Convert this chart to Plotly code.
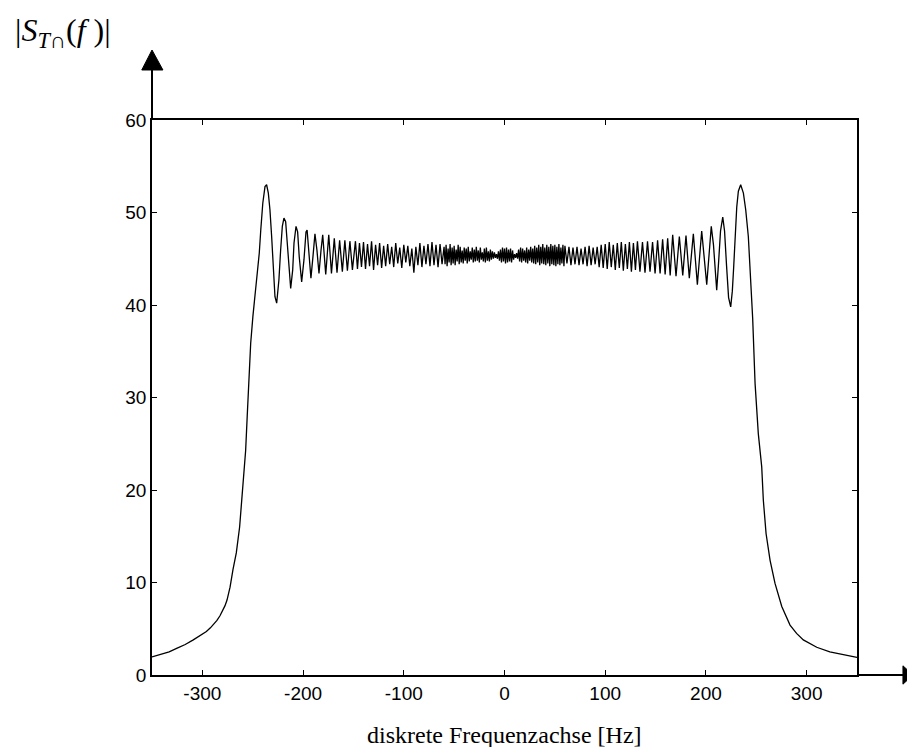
import plotly.graph_objects as go

# ---- data (frequency in Hz, magnitude) ----
freq_left_edge = [-350, -342, -333, -325, -317, -309, -302, -296, -292, -288.5, -285.5,
                  -282.5, -280.5, -277.5, -275.5, -272.5, -269.6, -266.3, -263, -260,
                  -257, -255.5, -253.8, -252, -249.8, -247.5, -245.5, -243.5, -242, -240,
                  -237.8, -236.2]
mag_left_edge = [1.95, 2.2, 2.5, 2.9, 3.3, 3.8, 4.3, 4.7, 5.1, 5.5, 5.9,
                 6.4, 6.8, 7.5, 8.1, 9.5, 11.4, 13.2, 16.0, 19.7,
                 24.3, 27.9, 32.6, 35.9, 38.8, 41.3, 43.1, 45.6, 48.1, 51.0,
                 52.8, 53.0]

freq_left_ripple = [-234.5, -232.9, -231.2, -229.6, -227.9, -226.2, -224, -222.3, -220.6,
                    -219, -217.3, -215.7, -214, -212.3, -210.3, -209, -207, -205.4,
                    -203.8, -201.4, -199.1, -197.1, -196, -193.8, -192.2, -190.2, -188.2,
                    -186.2, -184.2, -182.2, -180.5, -177.5, -174.5, -171.8, -169, -166.3,
                    -163.7, -161, -158.5, -156, -153.5, -151]
mag_left_ripple = [52.1, 50.3, 47.4, 44.1, 40.9, 40.2, 42.7, 45.9, 48.5,
                   49.4, 49.0, 46.7, 43.8, 41.8, 43.8, 46.7, 48.5, 47.9,
                   45.2, 42.5, 44.9, 47.9, 48.1, 45.2, 42.9, 45.2, 47.7,
                   45.9, 43.4, 45.9, 47.6, 43.3, 47.6, 43.4, 47.2, 43.5,
                   47.0, 43.6, 47.0, 43.7, 46.9, 43.8]

freq_center_a = list(range(-148, -61, 2))
mag_center_a = [
    46.9, 43.9, 46.7, 44.1, 46.8, 43.9, 46.6, 44.2, 46.9, 43.8,   # -148 .. -130
    46.5, 44.3, 46.7, 44.0, 46.4, 44.2, 46.6, 44.4, 46.3, 44.1,   # -128 .. -110
    46.7, 44.5, 46.2, 44.0, 46.5, 44.6, 46.4, 44.2, 46.1, 43.5,   # -108 .. -90
    46.3, 44.3, 46.7, 44.1, 46.4, 44.4, 46.6, 44.2, 46.8, 44.3,   # -88 .. -70
    46.5, 44.1, 46.6, 44.4,                                       # -68 .. -62
]

freq_center_b = list(range(-60, 61))
mag_center_b = [
    46.3, 44.4, 46.5, 44.2, 46.1, 44.6, 46.6, 44.3, 46.2, 44.5,   # -60 .. -51
    46.4, 44.3, 46.0, 44.7, 46.5, 44.4, 46.3, 44.6, 45.9, 44.5,   # -50 .. -41
    46.2, 44.8, 46.1, 44.5, 46.3, 44.7, 45.8, 44.9, 46.2, 44.6,   # -40 .. -31
    46.0, 44.7, 46.3, 44.8, 45.9, 44.6, 46.2, 44.9, 45.7, 44.7,   # -30 .. -21
    46.1, 44.6, 46.2, 44.8, 45.8, 44.7, 46.0, 44.9, 45.8, 45.0,   # -20 .. -11
    45.7, 45.1, 45.5, 45.0, 45.8, 44.8, 46.0, 44.6, 46.2, 44.7,   # -10 .. -1
    46.1, 44.5, 46.2, 44.6, 46.0, 44.7, 46.1, 44.6, 45.9, 44.9,   # 0 .. 9
    45.5, 45.1, 45.6, 45.0, 46.0, 44.7, 46.2, 44.6, 46.1, 44.8,   # 10 .. 19
    45.9, 44.6, 46.2, 44.5, 46.0, 44.8, 46.3, 44.6, 46.1, 44.5,   # 20 .. 29
    46.4, 44.4, 46.2, 44.6, 46.5, 44.3, 46.3, 44.5, 46.6, 44.4,   # 30 .. 39
    46.2, 44.3, 46.5, 44.5, 46.3, 44.2, 46.6, 44.4, 46.4, 44.3,   # 40 .. 49
    46.5, 44.2, 46.3, 44.4, 46.6, 44.3, 46.2, 44.5, 46.5, 44.2,   # 50 .. 59
    46.4,                                                         # 60
]

freq_center_c = list(range(62, 133, 2))
mag_center_c = [
    44.5, 46.3, 44.3, 46.2, 44.4, 46.3, 44.3, 46.1, 44.4, 46.3,   # 62 .. 80
    44.2, 46.4, 44.3, 46.2, 44.4, 46.3, 44.1, 46.5, 44.0, 46.6,   # 82 .. 100
    43.9, 46.8, 44.1, 46.5, 43.8, 46.7, 44.0, 46.8, 43.7, 46.6,   # 102 .. 120
    43.9, 46.8, 43.6, 46.7, 43.8, 46.9,                           # 122 .. 132
]

freq_right_ripple = [134.5, 137, 139.5, 142, 144.5, 147, 149.5, 152, 154.5, 157, 159.5,
                     162, 164.5, 167, 170.3, 173.6, 177, 180.2, 183.5, 187.5, 191.5,
                     195.8, 200.8, 203, 205.3, 207.5, 209.2, 210.7, 212.5, 214.5, 216.7,
                     218.5, 220.5, 222.5, 224.6, 226.2, 227.5, 229, 230.6, 232.2]
mag_right_ripple = [43.6, 46.8, 43.5, 46.9, 43.6, 46.8, 43.4, 47.0, 43.4, 47.1, 43.3,
                    47.2, 43.2, 47.6, 43.1, 47.4, 43.2, 47.5, 42.9, 47.7, 42.2,
                    48.0, 42.2, 45.5, 48.5, 46.5, 43.5, 41.6, 44.5, 48.0, 49.5,
                    48.0, 44.2, 40.8, 39.8, 41.5, 44.0, 47.4, 50.6, 52.3]

freq_right_edge = [234.5, 237.2, 239.5, 242.1, 243.8, 246.4, 248.8, 252, 255.4, 257,
                   259.7, 263.7, 268.6, 275.3, 283.5, 290, 296.7, 303, 310, 323, 336.5, 350]
mag_right_edge = [53.0, 52.1, 50.3, 47.4, 43.8, 38.6, 31.5, 26.1, 22.5, 18.9,
                  15.3, 12.4, 9.9, 7.4, 5.4, 4.5, 3.8, 3.4, 3.0, 2.5, 2.2, 1.9]

x_tick_vals = [-300, -200, -100, 0, 100, 200, 300]
y_tick_vals = [0, 10, 20, 30, 40, 50, 60]

freq = (freq_left_edge + freq_left_ripple + freq_center_a + freq_center_b +
        freq_center_c + freq_right_ripple + freq_right_edge)
mag = (mag_left_edge + mag_left_ripple + mag_center_a + mag_center_b +
       mag_center_c + mag_right_ripple + mag_right_edge)

fig = go.Figure()
fig.add_trace(go.Scatter(x=freq, y=mag, mode="lines",
                         line=dict(color="black", width=1.3), hoverinfo="skip",
                         showlegend=False))

tickfont = dict(family="Liberation Sans, Arial, sans-serif", size=19, color="black")
axis_common = dict(showline=True, linecolor="black", linewidth=1.5, mirror="ticks",
                   ticks="inside", ticklen=5, tickwidth=1, tickcolor="black",
                   showgrid=False, zeroline=False, tickfont=tickfont)

fig.update_xaxes(range=[-350, 350], tickvals=x_tick_vals,
                 ticktext=[str(v) for v in x_tick_vals], **axis_common)
fig.update_yaxes(range=[0, 60], tickvals=y_tick_vals,
                 ticktext=[str(v) for v in y_tick_vals], **axis_common)

# axis extensions with arrow heads (decoration, paper coordinates)
shapes = [
    dict(type="line", xref="paper", yref="paper", x0=0, x1=0, y0=1, y1=1.092,
         line=dict(color="black", width=2)),
    dict(type="path", xref="paper", yref="paper",
         path="M -0.0145 1.0901 L 0.0155 1.0901 L 0 1.1261 Z",
         fillcolor="black", line=dict(color="black", width=1)),
    dict(type="line", xref="paper", yref="paper", x0=1, x1=1.067, y0=0, y1=0,
         line=dict(color="black", width=2)),
    dict(type="path", xref="paper", yref="paper",
         path="M 1.0652 0.0165 L 1.0652 -0.0165 L 1.0794 0 Z",
         fillcolor="black", line=dict(color="black", width=1)),
]

serif = "Liberation Serif, Times New Roman, serif"
annotations = [
    dict(text="|<i>S</i><sub><i>T</i>∩</sub>(<i>f</i> )|", xref="paper", yref="paper",
         x=-0.197, y=1.157, xanchor="left", yanchor="middle", showarrow=False,
         font=dict(family=serif, size=32, color="black")),
    dict(text="diskrete Frequenzachse [Hz]", xref="paper", yref="paper",
         x=0.5, y=-0.108, xanchor="center", yanchor="middle", showarrow=False,
         font=dict(family=serif, size=24, color="black")),
]

# the page body has an 8 px margin, so margins are shifted by 8 px
fig.update_layout(width=915, height=747,
                  margin=dict(l=144, r=66, t=112, b=80, pad=0),
                  plot_bgcolor="white", paper_bgcolor="white",
                  shapes=shapes, annotations=annotations)

fig.write_html("out.html")
